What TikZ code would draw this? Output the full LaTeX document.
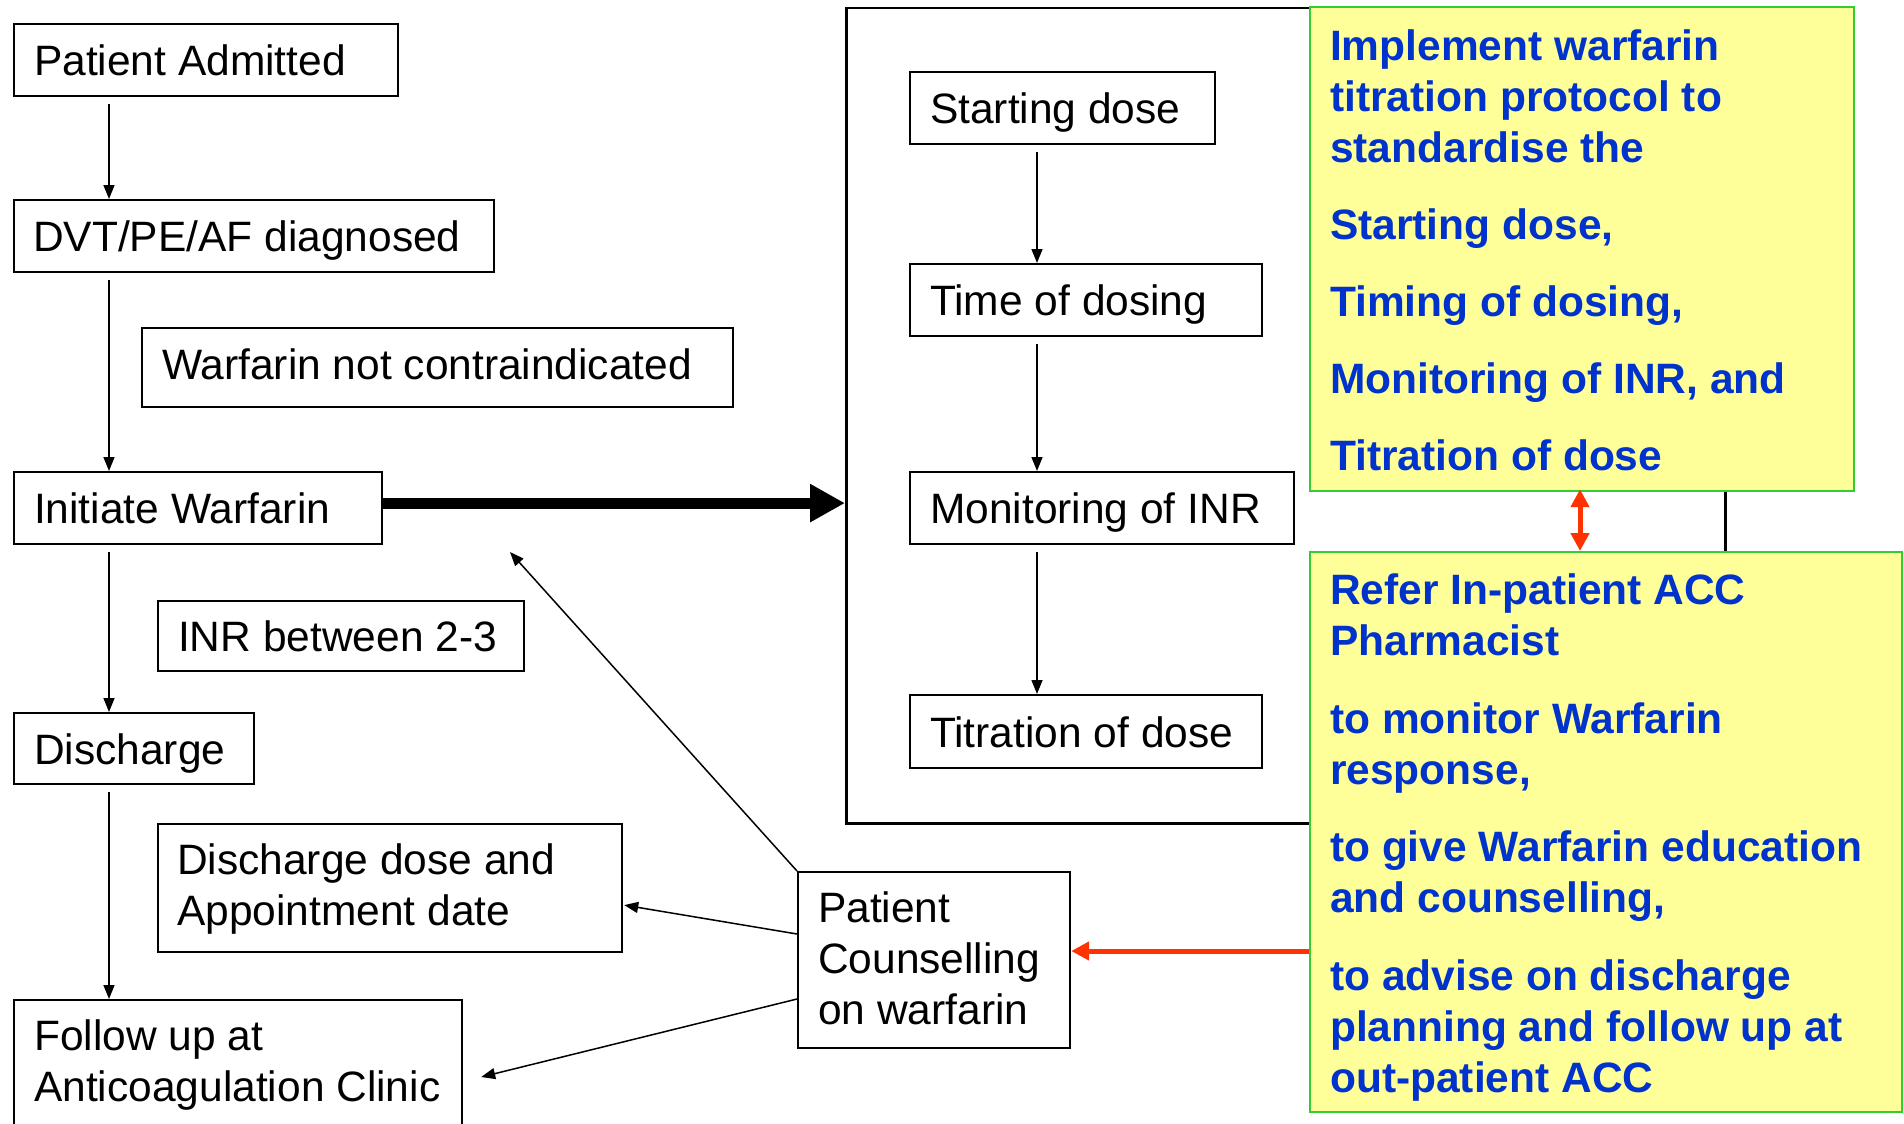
\documentclass[tikz,border=0pt]{standalone}
\usepackage{fontspec}
\setmainfont{Liberation Sans}
\usetikzlibrary{arrows.meta,calc}
\definecolor{noteblue}{HTML}{0033CC}
\definecolor{noteyellow}{HTML}{FFFF99}
\definecolor{notegreen}{HTML}{33CC33}
\definecolor{linkred}{HTML}{FF3300}
% one text line, and a left-padded block of lines of a given width
\newcommand\tline[1]{\hbox{#1}}
\newcommand\boxlines[3]{\hbox to #1{\hskip#2\vtop{#3}\hss}}
\begin{document}
\begin{tikzpicture}[x=1pt,y=-1pt,
  box/.style={draw=black, line width=2.2pt, rectangle, inner sep=0pt, anchor=north west,
    text height=31pt, text depth=0pt, font=\fontsize{42.5}{51}\selectfont},
  note/.style={box, draw=notegreen, fill=noteyellow, text=noteblue,
    font=\fontsize{42.5}{51}\selectfont\bfseries},
  frame/.style={draw=black, line width=2.5pt, rectangle, inner sep=0pt, anchor=north west},
  conn/.style={draw=black, line width=1.5pt, -{Triangle[length=14pt,width=11pt]}, shorten <=7pt},
  link/.style={draw=black, line width=1.5pt, -{Triangle[length=14pt,width=11pt]}},
  bigarrow/.style={draw=black, line width=11pt, -{Triangle[length=35pt,width=36pt]}},
  redlink/.style={draw=linkred, line width=5pt},
  redtip/.tip={Triangle[length=18pt,width=18pt]}
]
\useasboundingbox (0,0) rectangle (1904,1124);
\clip (0,0) rectangle (1904,1124);
\fill[white] (0,0) rectangle (1904,1124);

% protocol frame (right edge partly hidden by the notes)
\node[frame, minimum width=879pt, minimum height=815pt] (proto) at (845,7) {};

% main pathway
\node[box, minimum height=72pt] (pa) at (13,23) {\boxlines{384pt}{20pt}{\tline{Patient Admitted}}};
\node[box, minimum height=72pt] (dvt) at (13,199) {\boxlines{480pt}{19pt}{\tline{DVT/PE/AF diagnosed}}};
\node[box, minimum height=79pt, text depth=7pt] (wnc) at (141,327) {\boxlines{591pt}{20pt}{\tline{Warfarin not contraindicated}}};
\node[box, minimum height=72pt] (iw) at (13,471) {\boxlines{368pt}{20pt}{\tline{Initiate Warfarin}}};
\node[box, minimum height=70pt] (inr) at (157,600) {\boxlines{366pt}{20pt}{\tline{INR between 2-3}}};
\node[box, minimum height=71pt] (dis) at (13,712) {\boxlines{240pt}{20pt}{\tline{Discharge}}};
\node[box, minimum height=128pt, text depth=59pt] (dda) at (157,823)
  {\boxlines{464pt}{19pt}{\tline{Discharge dose and}\tline{Appointment date}}};
\node[box, minimum height=140pt, text depth=70pt] (fu) at (13,999)
  {\boxlines{448pt}{20pt}{\tline{Follow up at}\tline{Anticoagulation Clinic}}};
\node[box, minimum height=176pt, text depth=106pt] (pc) at (797,871)
  {\boxlines{272pt}{20pt}{\tline{Patient}\tline{Counselling}\tline{on warfarin}}};

% titration protocol steps
\node[box, minimum height=72pt] (sd) at (909,71) {\boxlines{305pt}{20pt}{\tline{Starting dose}}};
\node[box, minimum height=72pt] (tod) at (909,263) {\boxlines{352pt}{20pt}{\tline{Time of dosing}}};
\node[box, minimum height=72pt] (mi) at (909,471) {\boxlines{384pt}{20pt}{\tline{Monitoring of INR}}};
\node[box, minimum height=73pt] (tid) at (909,694) {\boxlines{352pt}{20pt}{\tline{Titration of dose}}};

% notes
\node[note, minimum height=484pt, text depth=408pt] (yb1) at (1309,6)
  {\boxlines{544pt}{20pt}{\tline{Implement warfarin}\tline{titration protocol to}\tline{standardise the}%
   \vskip26pt\tline{Starting dose,}\vskip26pt\tline{Timing of dosing,}%
   \vskip26pt\tline{Monitoring of INR, and}\vskip26pt\tline{Titration of dose}}};
\node[note, minimum height=560pt, text depth=486pt] (yb2) at (1309,551)
  {\boxlines{592pt}{20pt}{\tline{Refer In-patient ACC}\tline{Pharmacist}%
   \vskip26.5pt\tline{to monitor Warfarin}\tline{response,}%
   \vskip26.5pt\tline{to give Warfarin education}\tline{and counselling,}%
   \vskip26.5pt\tline{to advise on discharge}\tline{planning and follow up at}\tline{out-patient ACC}}};

% guide coordinates
\coordinate (colL) at (109,0);
\coordinate (colR) at (1037,0);
\coordinate (rx) at (1580,0);
\coordinate (ry) at (0,951);
\coordinate (cw) at (510,552);

% pathway connectors
\draw[conn] (pa.south -| colL) -- (dvt.north -| colL);
\draw[conn] (dvt.south -| colL) -- (iw.north -| colL);
\draw[conn] (iw.south -| colL) -- (dis.north -| colL);
\draw[conn] (dis.south -| colL) -- (fu.north -| colL);
\draw[conn] (sd.south -| colR) -- (tod.north -| colR);
\draw[conn] (tod.south -| colR) -- (mi.north -| colR);
\draw[conn] (mi.south -| colR) -- (tid.north -| colR);

\draw[bigarrow] ([yshift=5pt]iw.east) -- ([yshift=5pt]iw.east -| proto.west);

% counselling links
\draw[link] (pc.north west) -- (cw);
\draw[link] ([yshift=-63pt]pc.north west) -- ($(dda.east)+(1,17)$);
\draw[link] ([yshift=-128pt]pc.north west) -- ($(fu.north east)+(18,78)$);

% red links between the notes and to counselling
\draw[redlink, redtip-redtip] ([yshift=3pt]yb1.south -| rx) -- (yb2.north -| rx);
\draw[redlink, -redtip] (yb2.west |- ry) -- (pc.east |- ry);
\end{tikzpicture}
\end{document}
